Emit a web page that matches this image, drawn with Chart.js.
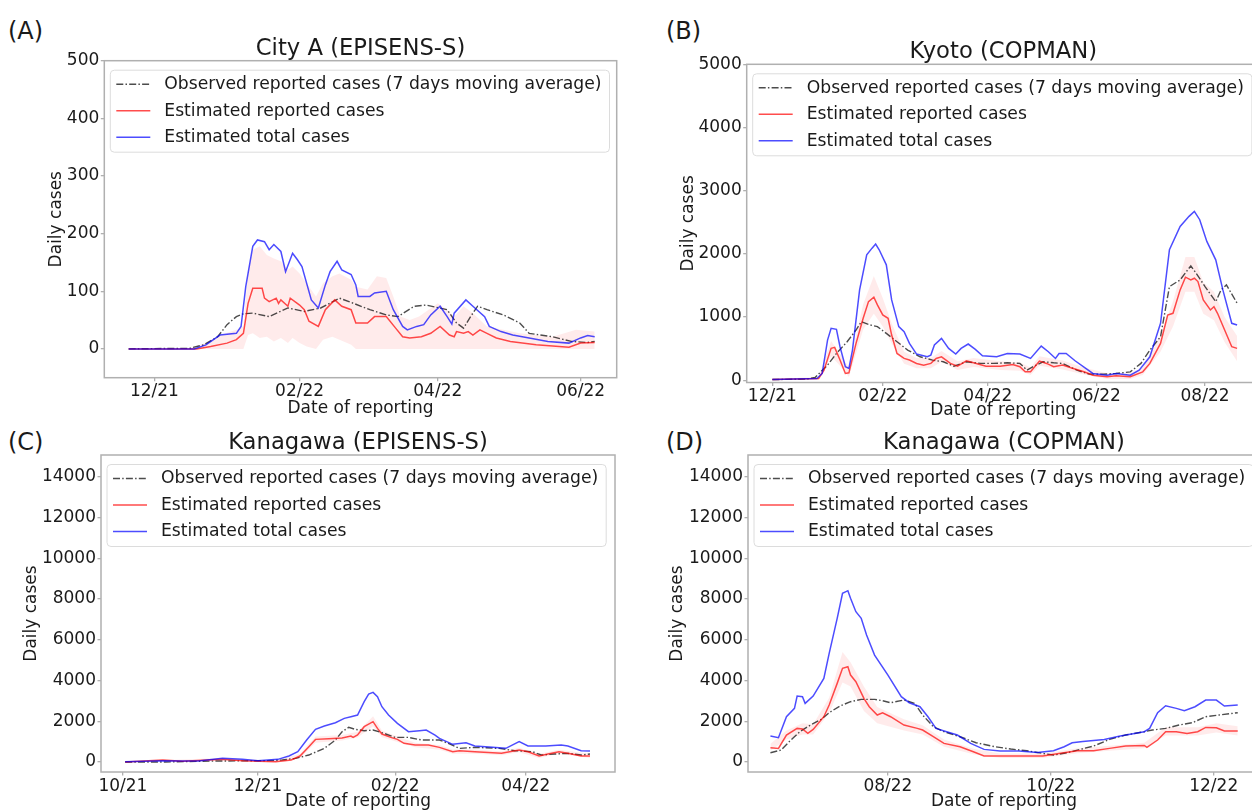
<!DOCTYPE html>
<html>
<head>
<meta charset="utf-8">
<script src="https://cdn.jsdelivr.net/npm/chart.js@4.4.1/dist/chart.umd.min.js"></script>
<style>
  html, body { margin: 0; padding: 0; background: #fff; width: 1252px; height: 812px; overflow: hidden; position: relative; }
  canvas { position: absolute; }
  .tag { position: absolute; font-family: "DejaVu Sans", sans-serif; font-size: 24px; line-height: 1; color: #1a1a1a; }
</style>
</head>
<body>
<div class="tag" style="left:8px;top:19px">(A)</div>
<div class="tag" style="left:666px;top:19px">(B)</div>
<div class="tag" style="left:8px;top:430px">(C)</div>
<div class="tag" style="left:666px;top:430px">(D)</div>
<canvas id="cA"></canvas>
<canvas id="cB"></canvas>
<canvas id="cC"></canvas>
<canvas id="cD"></canvas>
<script>
// x values: days counted from 2021-10-01, y values: daily cases

// City A (EPISENS-S)
const aObs = [[50,0],[76,1],[82,7],[88,21],[92,42],[96,56],[99,61],[103,62],[110,56],[118,71],[125,65],[132,71],[140,88],[146,79],[153,68],[160,59],[165,56],[172,74],[177,76],[186,68],[190,45],[193,36],[196,56],[199,74],[203,68],[210,59],[217,45],[221,27],[231,21],[239,13],[246,11],[249,13]];
const aRep = [[50,0],[79,0],[85,4],[92,10],[96,16],[99,27],[101,79],[103,105],[107,105],[108,88],[110,82],[113,88],[114,79],[115,85],[118,74],[119,88],[123,76],[125,68],[127,48],[131,39],[134,68],[138,85],[141,74],[145,68],[147,45],[152,45],[155,56],[160,56],[164,36],[167,21],[170,19],[175,21],[179,27],[183,39],[187,24],[189,21],[190,30],[193,27],[195,30],[197,24],[200,33],[203,27],[207,19],[213,13],[224,7],[238,3],[243,10],[249,11]];
const aTotal = [[50,0],[78,0],[83,7],[89,24],[96,27],[98,39],[100,108],[103,178],[105,189],[108,186],[110,172],[112,181],[115,169],[117,134],[120,166],[122,155],[124,143],[128,85],[131,71],[134,111],[136,134],[139,152],[141,137],[145,129],[147,111],[148,91],[153,91],[155,97],[160,100],[163,68],[167,39],[169,33],[173,39],[176,42],[179,59],[183,74],[186,56],[188,43],[189,62],[194,85],[197,74],[202,56],[204,39],[209,30],[214,24],[221,19],[229,13],[238,10],[243,19],[246,23],[249,21]];
const aBandDays = [50,75,83,89,96,99,101,103,106,109,112,115,118,120,123,126,130,133,137,140,145,147,152,156,160,163,166,170,174,182,186,189,193,197,203,210,217,231,241,249];
const aBandLo = [0,0,0,0,0,0,24,27,19,21,13,19,10,19,10,4,0,16,21,16,7,0,0,0,0,0,0,0,0,0,0,0,0,0,0,0,0,0,0,0];
const aBandHi = [0,0,10,24,33,39,137,172,178,163,157,152,137,143,131,114,91,114,126,131,120,108,103,126,123,91,56,50,56,79,68,56,74,62,39,33,27,21,33,30];
const aMonths = ["2021-12", "2022-02", "2022-04", "2022-06"];
const aYTicks = [0, 100, 200, 300, 400, 500];

// Kyoto (COPMAN)
const bObs = [[61,10],[80,16],[85,42],[92,238],[97,423],[103,609],[108,794],[111,926],[116,873],[120,847],[125,741],[131,609],[137,476],[144,370],[151,318],[157,291],[163,222],[170,291],[178,265],[185,265],[193,275],[200,265],[204,159],[208,222],[213,291],[219,275],[224,265],[232,159],[239,95],[247,95],[254,106],[262,132],[268,265],[273,476],[279,688],[284,1481],[290,1587],[296,1810],[299,1693],[304,1481],[310,1243],[313,1429],[316,1508],[322,1217]];
const bRep = [[61,10],[87,26],[90,159],[94,503],[96,519],[99,318],[102,106],[104,116],[108,582],[112,979],[115,1243],[118,1312],[120,1191],[123,1032],[126,979],[128,714],[131,423],[135,344],[138,318],[142,265],[146,238],[150,265],[153,344],[156,370],[161,265],[165,222],[170,307],[174,275],[181,222],[189,222],[196,249],[200,212],[203,132],[206,132],[211,302],[215,265],[219,212],[224,238],[230,185],[236,132],[241,79],[249,53],[254,69],[262,53],[269,132],[273,265],[279,582],[283,1032],[286,1058],[290,1429],[293,1630],[296,1587],[298,1614],[300,1561],[303,1270],[307,1111],[309,1164],[311,1058],[315,794],[319,529],[322,503]];
const bTotal = [[61,10],[86,26],[89,106],[92,635],[94,820],[97,804],[99,529],[102,212],[104,185],[106,476],[110,1429],[114,1984],[117,2090],[119,2154],[121,2064],[125,1826],[128,1270],[132,847],[135,767],[138,582],[142,413],[148,370],[150,397],[152,556],[156,662],[160,503],[164,413],[167,503],[171,572],[175,487],[179,386],[187,370],[193,423],[200,413],[206,344],[212,540],[216,450],[220,344],[222,423],[226,423],[231,307],[237,185],[241,106],[249,79],[254,106],[262,79],[267,159],[273,370],[279,900],[284,2064],[290,2434],[295,2593],[298,2672],[301,2540],[305,2196],[310,1905],[314,1429],[319,900],[322,873]];
const bBandDays = [61,87,94,99,104,112,118,123,128,135,142,150,156,165,174,189,200,206,211,224,236,249,262,269,279,286,293,298,303,309,315,322];
const bBandLo = [0,10,380,230,50,800,1050,850,580,260,190,190,290,160,210,160,150,80,230,170,90,20,20,80,450,850,1400,1400,1050,950,600,300];
const bBandHi = [20,50,620,420,200,1200,1650,1300,900,450,350,350,460,300,350,300,280,200,380,310,200,110,110,200,720,1250,1950,1950,1550,1400,1000,700];
const bMonths = ["2021-12", "2022-02", "2022-04", "2022-06", "2022-08"];
const bYTicks = [0, 1000, 2000, 3000, 4000, 5000];

// Kanagawa (EPISENS-S)
const cObs = [[1,0],[19,0],[42,49],[64,65],[72,98],[78,180],[84,343],[91,670],[96,1079],[99,1488],[102,1701],[105,1602],[109,1537],[113,1570],[117,1439],[123,1210],[129,1210],[135,1079],[143,1079],[147,916],[152,670],[159,719],[170,670],[177,555],[185,507],[189,343],[195,392],[201,425],[207,343],[211,392]];
const cRep = [[1,0],[18,98],[27,33],[45,131],[54,65],[69,16],[76,98],[80,294],[84,752],[87,1111],[93,1144],[99,1177],[103,1275],[104,1210],[106,1324],[109,1733],[113,1979],[115,1651],[117,1373],[121,1210],[124,1111],[127,916],[132,834],[138,834],[143,719],[149,507],[152,555],[159,507],[171,425],[179,589],[183,507],[188,294],[192,392],[197,507],[201,425],[207,294],[211,294]];
const cTotal = [[1,16],[18,65],[27,49],[34,49],[45,180],[54,131],[61,65],[70,131],[75,294],[79,507],[83,1079],[87,1602],[91,1766],[96,1929],[100,2142],[103,2224],[106,2306],[109,2960],[111,3336],[113,3418],[115,3206],[117,2715],[120,2306],[124,1897],[129,1488],[134,1537],[137,1570],[141,1324],[143,1161],[149,867],[155,948],[159,785],[167,719],[173,670],[179,997],[183,785],[191,785],[198,833],[201,785],[207,555],[211,539]];
const cBandDays = [1,45,69,80,87,99,106,113,117,124,132,143,149,159,171,179,188,197,211];
const cBandLo = [0,60,0,200,950,1050,1200,1750,1220,980,720,600,400,400,330,480,200,400,200];
const cBandHi = [30,200,60,400,1250,1320,1480,2250,1550,1250,950,830,620,620,530,700,400,600,400];
const cMonths = ["2021-10", "2021-12", "2022-02", "2022-04"];
const kYTicks = [0, 2000, 4000, 6000, 8000, 10000, 12000, 14000];

// Kanagawa (COPMAN)
const dObs = [[260,456],[264,587],[267,996],[271,1487],[275,1814],[279,2092],[282,2419],[286,2746],[290,2959],[294,3074],[299,3074],[302,3008],[305,2910],[310,3041],[314,2877],[317,2305],[321,1732],[325,1487],[331,1241],[337,947],[344,751],[350,636],[356,554],[362,423],[366,341],[371,456],[376,620],[381,783],[387,1110],[393,1323],[400,1487],[403,1569],[408,1650],[413,1814],[418,1928],[423,2223],[428,2305],[435,2419]];
const dRep = [[260,701],[263,669],[266,1323],[270,1650],[272,1618],[274,1405],[276,1601],[280,2223],[282,2796],[285,3859],[287,4595],[289,4677],[290,4268],[292,3941],[295,3123],[297,2714],[300,2305],[302,2419],[305,2223],[310,1814],[315,1650],[317,1569],[321,1241],[325,914],[331,751],[336,505],[340,293],[346,293],[356,293],[362,293],[368,423],[375,554],[381,554],[387,669],[393,783],[400,816],[401,718],[405,1078],[408,1487],[412,1487],[416,1405],[420,1487],[423,1699],[427,1683],[430,1519],[435,1519]];
const dTotal = [[260,1274],[263,1192],[266,2223],[269,2632],[270,3237],[272,3204],[273,2877],[276,3237],[280,4104],[282,5331],[285,7049],[287,8276],[289,8407],[290,8031],[292,7376],[294,7049],[296,6231],[299,5249],[304,4268],[309,3204],[312,2910],[316,2714],[319,2223],[322,1650],[326,1487],[330,1323],[335,914],[340,620],[346,538],[353,538],[360,473],[366,554],[370,751],[373,947],[377,1012],[385,1110],[391,1274],[400,1487],[402,1650],[405,2419],[408,2763],[412,2632],[415,2517],[419,2714],[423,3041],[427,3041],[430,2746],[435,2796]];
const dBandDays = [260,266,272,276,282,287,290,295,300,310,317,325,336,346,362,375,387,400,408,420,427,435];
const dBandLo = [550,1100,1350,1350,2400,3900,3700,2500,1900,1550,1350,750,380,200,200,430,550,680,1300,1300,1450,1300];
const dBandHi = [900,1550,1900,1850,3150,5400,4900,3700,2700,2100,1800,1100,650,420,420,680,800,950,1700,1700,1900,1750];
const dMonths = ["2022-08", "2022-10", "2022-12"];

const seriesLabels = [
  "Observed reported cases (7 days moving average)",
  "Estimated reported cases",
  "Estimated total cases",
];

const FONT = "'DejaVu Sans', sans-serif";
const TEXT_SIZE = 17;
const LEGEND_SIZE = 17.2;
const TITLE_SIZE = 22.7;
const INK = "#1a1a1a";
const SPINE = "#b0b0b0";
const OBS_COLOR = "rgba(0,0,0,0.7)";
const REP_COLOR = "rgba(255,0,0,0.7)";
const TOTAL_COLOR = "rgba(0,0,255,0.7)";
const BAND_COLOR = "rgba(255,0,0,0.08)";

Chart.defaults.font.family = FONT;
Chart.defaults.color = INK;

const EPOCH = Date.UTC(2021, 9, 1);
function monthDay(s) {
  const [y, m] = s.split("-").map(Number);
  return Math.round((Date.UTC(y, m - 1, 1) - EPOCH) / 864e5);
}
function monthLabel(s) {
  const [y, m] = s.split("-");
  return m + "/" + y.slice(2);
}

// canvas box and plot area in page pixels
const panels = [
  { id: "cA", title: "City A (EPISENS-S)", box: { x: 46, y: 0, w: 581, h: 419 }, area: { l: 104.3, t: 60.7, r: 616.7, b: 377.7 },
    xMin: 39.6, xMax: 258.4, yMin: -50, yMax: 500, months: aMonths, yTicks: aYTicks,
    obs: aObs, rep: aRep, total: aTotal, bandDays: aBandDays, lo: aBandLo, hi: aBandHi },
  { id: "cB", title: "Kyoto (COPMAN)", box: { x: 678, y: 0, w: 592, h: 421 }, area: { l: 746.7, t: 64.3, r: 1259.9, b: 382.5 },
    xMin: 46.6, xMax: 334.8, yMin: -37, yMax: 5000, months: bMonths, yTicks: bYTicks,
    obs: bObs, rep: bRep, total: bTotal, bandDays: bBandDays, lo: bBandLo, hi: bBandHi },
  { id: "cC", title: "Kanagawa (EPISENS-S)", box: { x: 21, y: 420, w: 604, h: 392 }, area: { l: 101, t: 455, r: 615, b: 772 },
    xMin: -9.9, xMax: 222.3, yMin: -490, yMax: 15065, months: cMonths, yTicks: kYTicks,
    obs: cObs, rep: cRep, total: cTotal, bandDays: cBandDays, lo: cBandLo, hi: cBandHi },
  { id: "cD", title: "Kanagawa (COPMAN)", box: { x: 667, y: 420, w: 603, h: 392 }, area: { l: 748, t: 455, r: 1259.9, b: 772 },
    xMin: 251.6, xMax: 443.3, yMin: -490, yMax: 15065, months: dMonths, yTicks: kYTicks,
    obs: dObs, rep: dRep, total: dTotal, bandDays: dBandDays, lo: dBandLo, hi: dBandHi },
];

// frame, title and boxed legend drawn inside the plot area
const decorations = {
  id: "decorations",
  afterDatasetsDraw(chart, args, opts) {
    const { ctx, chartArea: ca } = chart;
    ctx.save();
    ctx.strokeStyle = SPINE;
    ctx.lineWidth = 1.5;
    ctx.setLineDash([]);
    ctx.strokeRect(ca.left, ca.top, ca.right - ca.left, ca.bottom - ca.top);

    ctx.fillStyle = INK;
    ctx.font = TITLE_SIZE + "px " + FONT;
    ctx.textAlign = "center";
    ctx.textBaseline = "alphabetic";
    ctx.fillText(opts.title, (ca.left + ca.right) / 2, ca.top - 6);

    const items = chart.data.datasets.filter((d) => d.inLegend);
    ctx.font = LEGEND_SIZE + "px " + FONT;
    const textW = Math.max(...items.map((d) => ctx.measureText(d.label).width));
    const x0 = ca.left + 6, y0 = ca.top + 9.5, w = 54 + textW + 8, h = 82;
    ctx.beginPath();
    ctx.roundRect(x0, y0, w, h, 4);
    ctx.fillStyle = "rgba(255,255,255,0.85)";
    ctx.fill();
    ctx.strokeStyle = "#dcdcdc";
    ctx.lineWidth = 1;
    ctx.stroke();
    ctx.textAlign = "left";
    ctx.textBaseline = "middle";
    items.forEach((d, i) => {
      const cy = y0 + 14 + i * 26.5;
      ctx.strokeStyle = d.borderColor;
      ctx.lineWidth = d.borderWidth;
      ctx.setLineDash(d.borderDash || []);
      ctx.beginPath();
      ctx.moveTo(x0 + 6, cy);
      ctx.lineTo(x0 + 40, cy);
      ctx.stroke();
      ctx.fillStyle = INK;
      ctx.fillText(d.label, x0 + 54, cy + 0.5);
    });
    ctx.restore();
  },
};

function makePanel(p) {
  const canvas = document.getElementById(p.id);
  canvas.width = p.box.w;
  canvas.height = p.box.h;
  canvas.style.left = p.box.x + "px";
  canvas.style.top = p.box.y + "px";
  const yw = p.area.l - p.box.x;
  const xh = p.box.y + p.box.h - p.area.b;
  const tickDays = p.months.map(monthDay);
  const tickText = {};
  p.months.forEach((m) => (tickText[monthDay(m)] = monthLabel(m)));
  const toXY = (arr) => arr.map(([x, y]) => ({ x, y }));
  const band = (vals) => p.bandDays.map((d, i) => ({ x: d, y: vals[i] }));
  const line = { pointRadius: 0, tension: 0, fill: false };

  new Chart(canvas, {
    type: "line",
    data: {
      datasets: [
        { ...line, label: seriesLabels[0], data: toXY(p.obs), borderColor: OBS_COLOR, borderWidth: 1.4, borderDash: [7, 2.2, 1.5, 2.2], order: 2, inLegend: true },
        { ...line, label: seriesLabels[1], data: toXY(p.rep), borderColor: REP_COLOR, borderWidth: 1.5, order: 1, inLegend: true },
        { ...line, label: seriesLabels[2], data: toXY(p.total), borderColor: TOTAL_COLOR, borderWidth: 1.5, order: 0, inLegend: true },
        { ...line, label: "upper", data: band(p.hi), borderWidth: 0, borderColor: "transparent", backgroundColor: BAND_COLOR, fill: "+1", order: 3 },
        { ...line, label: "lower", data: band(p.lo), borderWidth: 0, borderColor: "transparent", order: 4 },
      ],
    },
    options: {
      responsive: false,
      animation: false,
      events: [],
      layout: { padding: { left: 0, top: p.area.t - p.box.y, right: p.box.x + p.box.w - p.area.r, bottom: 0 } },
      plugins: {
        legend: { display: false },
        tooltip: { enabled: false },
        filler: { drawTime: "beforeDatasetsDraw" },
        decorations: { title: p.title },
      },
      scales: {
        x: {
          type: "linear",
          min: p.xMin,
          max: p.xMax,
          afterFit: (s) => { s.height = xh; },
          afterBuildTicks: (s) => { s.ticks = tickDays.map((v) => ({ value: v })); },
          ticks: { autoSkip: false, maxRotation: 0, padding: 0.5, font: { size: TEXT_SIZE }, color: INK, callback: (v) => tickText[v] || "" },
          grid: { drawOnChartArea: false, drawTicks: true, tickLength: 3.5, color: SPINE, lineWidth: 1.3 },
          border: { display: false },
          title: { display: true, text: "Date of reporting", font: { size: TEXT_SIZE }, color: INK, padding: 0 },
        },
        y: {
          type: "linear",
          min: p.yMin,
          max: p.yMax,
          afterFit: (s) => { s.width = yw; },
          afterBuildTicks: (s) => { s.ticks = p.yTicks.map((v) => ({ value: v })); },
          ticks: { autoSkip: false, padding: 1.5, font: { size: TEXT_SIZE }, color: INK, callback: (v) => String(v) },
          grid: { drawOnChartArea: false, drawTicks: true, tickLength: 3.5, color: SPINE, lineWidth: 1.3 },
          border: { display: false },
          title: { display: true, text: "Daily cases", font: { size: TEXT_SIZE }, color: INK, padding: 0 },
        },
      },
    },
    plugins: [decorations],
  });
}

panels.forEach(makePanel);
</script>
</body>
</html>
